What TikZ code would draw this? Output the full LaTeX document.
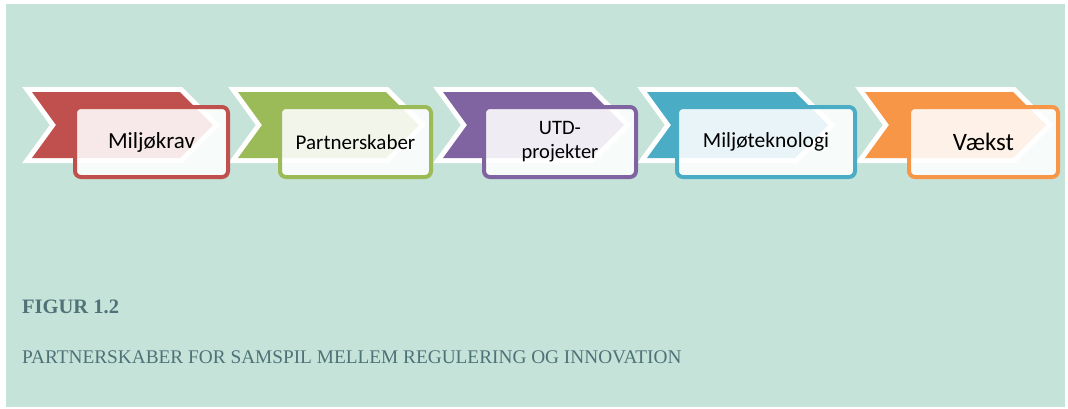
\documentclass[tikz,border=0pt]{standalone}
\usepackage{fontspec}
\setmainfont{Liberation Serif}
\newfontfamily\carlito{Carlito}
\definecolor{bgc}{HTML}{C5E3D9}
\definecolor{capc}{HTML}{4F7178}
\definecolor{cred}{HTML}{C0504D}
\definecolor{cgreen}{HTML}{9BBB59}
\definecolor{cpurple}{HTML}{8064A2}
\definecolor{cblue}{HTML}{4BACC6}
\definecolor{corange}{HTML}{F79646}
\newcommand\chevshape[2]{%
  \draw[white, line width=10, line join=miter] (#1,92) -- ++(148,0) -- ++(33,33) -- ++(-33,33) -- ++(-148,0) -- ++(24,-33) -- cycle;
  \fill[#2] (#1,92) -- ++(148,0) -- ++(33,33) -- ++(-33,33) -- ++(-148,0) -- ++(24,-33) -- cycle;}
\begin{document}
\begin{tikzpicture}[x=1pt,y=-1pt,
  stepbox/.style={draw=#1, line width=4, rounded corners=6, fill=white, fill opacity=0.88, text opacity=1,
    minimum height=70, inner sep=0, align=center, text=black},
  captxt/.style={anchor=base west, inner sep=0, text=capc}]
\useasboundingbox (0,0) rectangle (1068,408);
\fill[white] (0,0) rectangle (1068,408);
\fill[bgc] (6,4) rectangle (1065,407);
\chevshape{32}{cred}
\chevshape{238}{cgreen}
\chevshape{443}{cpurple}
\chevshape{647}{cblue}
\chevshape{865}{corange}
\node[stepbox=cred, minimum width=153, font=\carlito\fontsize{23}{27}\selectfont] (b1) at (151.5,142) {Miljøkrav};
\node[stepbox=cgreen, minimum width=151, font=\carlito\fontsize{21}{25}\selectfont] (b2) at (355.5,142) {Partnerskaber};
\node[stepbox=cpurple, minimum width=152, font=\carlito\fontsize{20.5}{24}\selectfont] (b3) at (560,142) {UTD-\\projekter};
\node[stepbox=cblue, minimum width=178, font=\carlito\fontsize{21.5}{25}\selectfont] (b4) at (766,142) {Miljøteknologi};
\node[stepbox=corange, minimum width=149, font=\carlito\fontsize{25}{29}\selectfont] (b5) at (983.5,142) {Vækst};
\node[captxt, font=\bfseries\fontsize{20.5}{24}\selectfont] (fig) at (22,313) {FIGUR 1.2};
\node[captxt, font=\fontsize{19.3}{22}\selectfont] (cap) at (22,363) {PARTNERSKABER FOR SAMSPIL MELLEM REGULERING OG INNOVATION};
\end{tikzpicture}
\end{document}
